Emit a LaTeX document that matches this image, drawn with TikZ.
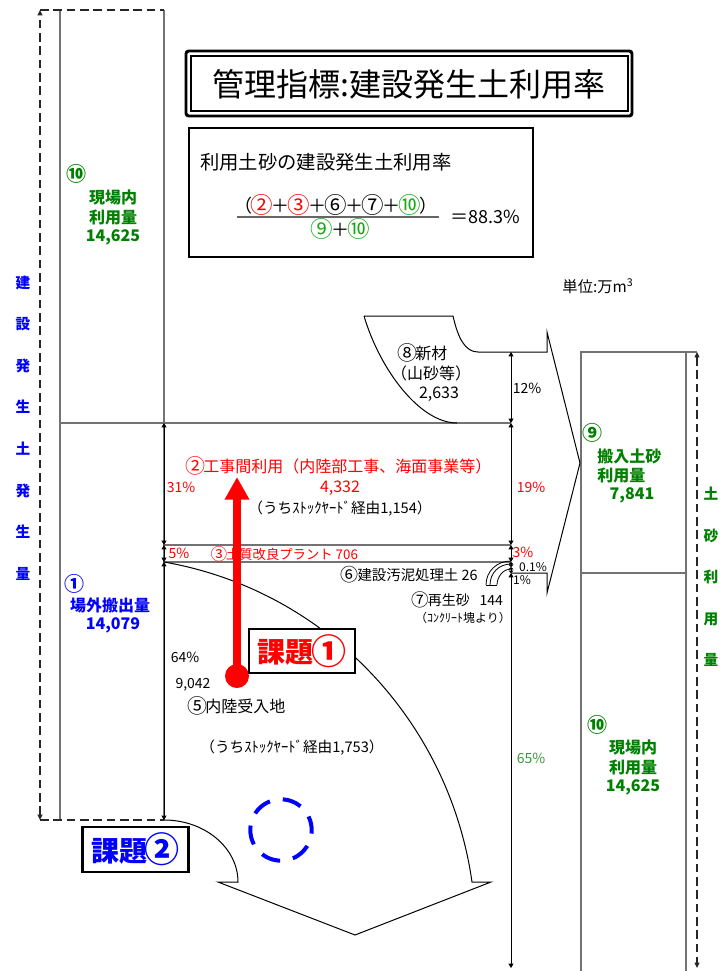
\documentclass[tikz,border=0pt]{standalone}
\usepackage{fontspec}
\usepackage{graphicx}
\setmainfont{Noto Sans CJK JP}
\usetikzlibrary{arrows.meta}
\definecolor{dkgreen}{RGB}{0,128,0}
\definecolor{ltgreen}{RGB}{20,170,20}
\definecolor{pcgreen}{RGB}{60,150,60}
\definecolor{myred}{RGB}{255,0,0}
\definecolor{myblue}{RGB}{0,0,255}
\definecolor{edgegray}{RGB}{115,115,115}
\newcommand\cnum[1]{\hspace{-0.1em}\raisebox{-0.06em}{\scalebox{1.25}{#1}}\hspace{-0.1em}}
\tikzset{
  coledge/.style={draw=edgegray, line width=1.1pt},
  outline/.style={draw=black, line width=0.75pt},
  dimline/.style={draw=black, line width=0.6pt, {Triangle[length=3.2pt,width=3.6pt]}-{Triangle[length=3.2pt,width=3.6pt]}},
  smalldim/.style={draw=black, line width=0.6pt, {Triangle[length=1.8pt,width=3.6pt]}-{Triangle[length=1.8pt,width=3.6pt]}},
  dashline/.style={draw=black!85, line width=1pt, dash pattern=on 6.5pt off 3.5pt},
  dasharrow/.style={dashline, {Triangle[length=4pt,width=3.6pt]}-{Triangle[length=4pt,width=3.6pt]}},
  lbl/.style={inner sep=0pt, font=\fontsize{10.5pt}{12pt}\selectfont},
  lblmid/.style={inner sep=0pt, font=\fontsize{12pt}{14pt}\selectfont},
  lblsmall/.style={inner sep=0pt, font=\fontsize{9pt}{10pt}\selectfont},
  gbold/.style={inner sep=0pt, text=dkgreen, font=\bfseries\fontsize{12pt}{14pt}\selectfont},
  bbold/.style={inner sep=0pt, text=myblue, font=\bfseries\fontsize{12pt}{14pt}\selectfont},
  vlabel/.style={inner sep=0pt, align=center, font=\bfseries\fontsize{11pt}{31.2pt}\selectfont},
  kadai/.style={draw=black, fill=white, line width=1.9pt, inner sep=0pt, minimum width=79.5pt, minimum height=33pt, font=\bfseries\fontsize{21pt}{23pt}\selectfont},
  redarrow/.style={draw=myred, line width=6pt, -{Triangle[length=17pt,width=17.5pt]}},
}
\begin{document}
\begin{tikzpicture}[x=0.75pt,y=-0.75pt]
\useasboundingbox (0,0) rectangle (719,971);
\fill[white] (0,0) rectangle (719,971);

% ---- coordinates
\coordinate (L0) at (164,10);
\coordinate (L1) at (164,423);
\coordinate (L2) at (164,545);
\coordinate (L3) at (164,562);
\coordinate (L4) at (164,820);
\coordinate (R0) at (511,352);
\coordinate (R1) at (511,423);
\coordinate (R2) at (511,545);
\coordinate (R3) at (511,562);
\coordinate (R4) at (511,567);
\coordinate (R5) at (511,573);
\coordinate (R6) at (511,968);
\coordinate (DLt) at (40,10);
\coordinate (DLb) at (40,820);
\coordinate (DRt) at (697,352);
\coordinate (DRb) at (697,968);

% ---- left column
\draw[coledge] (60,10) -- (60,820);
\draw[coledge] (L0) -- (L4);
\draw[coledge] (60,423) -- (R1);
\draw[coledge] (L2) -- (R2);
\draw[coledge] (L3) -- (R3);
\draw[dashline] (DLt) -- (L0);
\draw[dashline] (DLb) -- (L4);
\draw[dasharrow] (DLb) -- (DLt);

% ---- right column
\draw[coledge] (581,971) -- (581,352) -- (DRt);
\draw[coledge] (686,352) -- (686,971);
\draw[coledge] (581,573) -- (686,573);
\draw[dasharrow] (DRt) -- (DRb);

% ---- shape 8 and big right arrow
\draw[outline] (364,316) -- (453,316) .. controls (458,338) and (465,352) .. (478,352) -- (547,352) -- (547,332) -- (580,463) -- (547,593) -- (547,573) -- (R5);
\draw[outline] (364,316) .. controls (380,370) and (420,423) .. (457,423);

% ---- big down arrow
\draw[outline] (L3) .. controls (325,590) and (449,720) .. (472,882) -- (491,882) -- (355,935) -- (218,882) -- (238,882) .. controls (238,848) and (205,820) .. (L4);

% ---- small curved band (6)
\draw[outline, line width=0.6pt] (486,585) .. controls (486,571) and (497,561) .. (511,561);
\draw[outline, line width=0.6pt] (490,585) .. controls (490,573) and (499,564) .. (511,564);
\draw[outline, line width=0.6pt] (497,585) .. controls (497,577) and (503,569) .. (511,569);
\draw[outline, line width=0.6pt] (486,585) -- (497,585);

% ---- dimension lines
\draw[dimline] (L1) -- (L2);
\draw[dimline] (L2) -- (L3);
\draw[dimline] (L3) -- (L4);
\draw[dimline] (R0) -- (R1);
\draw[dimline] (R1) -- (R2);
\draw[dimline] (R2) -- (R3);
\draw[smalldim] (R3) -- (R4);
\draw[smalldim] (R4) -- (R5);
\draw[dimline] (R5) -- (R6);

% ---- title and formula
\draw[line width=2.2pt, rounded corners=2pt] (186,51) rectangle (632,116);
\draw[line width=1.4pt] (191,56) rectangle (628,111);
\node[inner sep=0pt, font=\fontsize{24pt}{26pt}\selectfont] (title) at (409,84) {管理指標:建設発生土利用率};
\draw[line width=1.5pt] (189,128) rectangle (533,257);
\node[inner sep=0pt, anchor=west, font=\fontsize{14.5pt}{16pt}\selectfont] (ftitle) at (200,162) {利用土砂の建設発生土利用率};
\node[inner sep=0pt, font=\fontsize{13.5pt}{15pt}\selectfont] (num) at (336,205) {（\textcolor{myred}{\cnum{②}}＋\textcolor{myred}{\cnum{③}}＋\cnum{⑥}＋\cnum{⑦}＋\textcolor{ltgreen}{\cnum{⑩}}）};
\coordinate (fracl) at (237,217);
\coordinate (fracr) at (439,217);
\draw[draw=gray!80!black, line width=0.9pt] (fracl) -- (fracr);
\node[inner sep=0pt, font=\fontsize{13.5pt}{15pt}\selectfont] (den) at (340,229) {\textcolor{ltgreen}{\cnum{⑨}}＋\textcolor{ltgreen}{\cnum{⑩}}};
\node[inner sep=0pt, font=\fontsize{13.5pt}{15pt}\selectfont] (eq) at (485,217) {＝88.3\%};
\node[inner sep=0pt, font=\fontsize{11.5pt}{13pt}\selectfont] (unit) at (598,286) {単位:万m\textsuperscript{3}};

% ---- vertical labels
\node[vlabel, text=myblue] (vleft) at (23,428) {建\\設\\発\\生\\土\\発\\生\\量};
\node[vlabel, text=dkgreen] (vright) at (711,577) {土\\砂\\利\\用\\量};

% ---- left column texts
\node[gbold] (c10a) at (77,174) {\cnum{⑩}};
\node[gbold] (c10b) at (113,197) {現場内};
\node[gbold] (c10c) at (113,217) {利用量};
\node[gbold] (c10d) at (113,237) {14,625};
\node[bbold] (c1a) at (75,584) {\cnum{①}};
\node[bbold] (c1b) at (110,605) {場外搬出量};
\node[bbold] (c1c) at (113,625) {14,079};

% ---- right column texts
\node[gbold] (c9a) at (593,433) {\cnum{⑨}};
\node[gbold, anchor=west] (c9b) at (597,456) {搬入土砂};
\node[gbold, anchor=west] (c9c) at (597,475) {利用量};
\node[gbold] (c9d) at (632,495) {7,841};
\node[gbold] (r10a) at (598,725) {\cnum{⑩}};
\node[gbold] (r10b) at (633,747) {現場内};
\node[gbold] (r10c) at (633,767) {利用量};
\node[gbold] (r10d) at (633,787) {14,625};

% ---- flow texts
\node[lblmid] (t8a) at (423,353) {\cnum{⑧}新材};
\node[lblmid] (t8b) at (431,373) {（山砂等）};
\node[lblmid] (t8c) at (439,394) {2,633};
\node[lbl] (p12) at (527,388) {12\%};
\node[lblmid, text=myred] (t2a) at (339,466) {\cnum{②}工事間利用（内陸部工事、海面事業等）};
\node[lbl, text=myred] (p31) at (181,487) {31\%};
\node[lblmid, text=myred] (t2b) at (340,488) {4,332};
\node[lbl, text=myred] (p19) at (531,487) {19\%};
\node[lbl, font=\fontsize{11pt}{12pt}\selectfont] (t2c) at (340,509) {（うちｽﾄｯｸﾔｰﾄﾞ経由1,154）};
\node[lbl, text=myred] (p5) at (179,553) {5\%};
\node[lbl, font=\fontsize{10pt}{12pt}\selectfont, text=myred] (t3) at (285,554) {\cnum{③}土質改良プラント 706};
\node[lbl, text=myred] (p3) at (523,552) {3\%};
\node[lblsmall] (p01) at (533,567) {0.1\%};
\node[lblsmall] (p1) at (522,580) {1\%};
\node[lbl, font=\fontsize{10.8pt}{12pt}\selectfont] (t6) at (410,575) {\cnum{⑥}建設汚泥処理土 26};
\node[lbl] (t7a) at (458,600) {\cnum{⑦}再生砂\hspace{0.7em}144};
\node[lblsmall] (t7b) at (463,618) {（ｺﾝｸﾘｰﾄ塊より）};
\node[lbl] (p64) at (185,657) {64\%};
\node[lbl] (t5a) at (193,685) {9,042};
\node[lblmid] (t5b) at (237,706) {\cnum{⑤}内陸受入地};
\node[lbl, font=\fontsize{11pt}{12pt}\selectfont] (t5c) at (292,748) {（うちｽﾄｯｸﾔｰﾄﾞ経由1,753）};
\node[lbl, text=pcgreen] (p65) at (531,758) {65\%};

% ---- red arrow (issue 1)
\node[circle, fill=myred, inner sep=0pt, minimum size=18pt] (dot) at (237,676) {};
\coordinate (tip) at (237,477);
\draw[redarrow] (dot.center) -- (tip);

% ---- issue boxes
\node[kadai, text=myred] (k1) at (302,651) {課題\cnum{①}};
\node[kadai, text=myblue, minimum height=33.75pt] (k2) at (135.5,849.5) {課題\cnum{②}};

% ---- blue dashed circle
\node[circle, draw=myblue, line width=3pt, dash pattern=on 14.5pt off 9.8pt, dash phase=4pt, minimum size=46pt, inner sep=0pt] (ring) at (281,830) {};

\end{tikzpicture}
\end{document}
